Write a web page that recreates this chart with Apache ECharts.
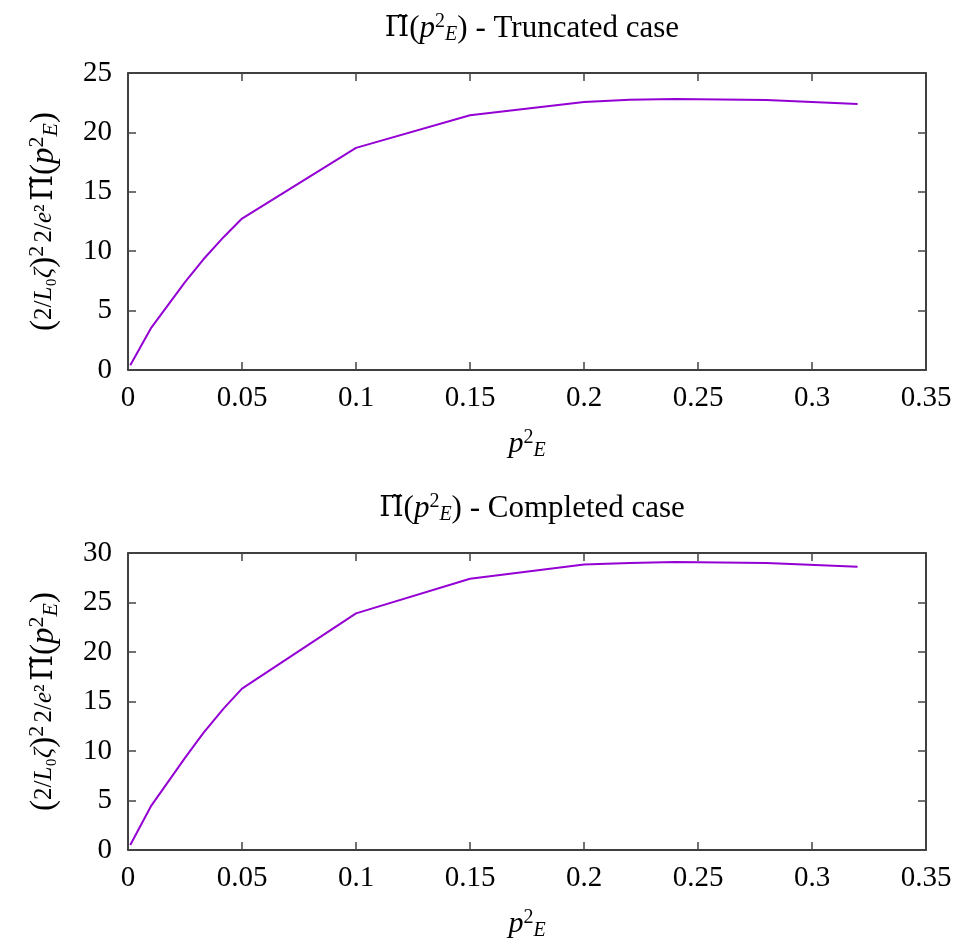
<!DOCTYPE html>
<html>
<head>
<meta charset="utf-8">
<script src="https://cdn.jsdelivr.net/npm/echarts@6/dist/echarts.min.js"></script>
<style>
  html, body { margin: 0; padding: 0; background: #fff; }
  #chart { width: 962px; height: 947px; }
</style>
</head>
<body>
<div id="chart"></div>
<script>
// p_E^2 sample points
const pE2 = [0.001, 0.01, 0.025, 0.033, 0.042, 0.05, 0.1, 0.15, 0.2, 0.22, 0.24, 0.28, 0.32]
// truncated case values
const truncatedVals = [0.4, 3.5, 7.4, 9.3, 11.2, 12.75, 18.7, 21.45, 22.55, 22.75, 22.82, 22.73, 22.4]
// completed case values
const completedVals = [0.5, 4.4, 9.3, 11.8, 14.3, 16.3, 23.9, 27.4, 28.85, 29.0, 29.1, 29.0, 28.6]

const titles = ['Truncated case', 'Completed case']
const yMax = [25, 30]

const FONT = 'Liberation Serif'
const LINE = '#9400d3'

// builds rich styles for a base font size
const makeRich = (size) => ({
  b: { fontFamily: FONT, fontSize: size, color: '#000', fontWeight: 'normal' },
  pi: { fontFamily: 'DejaVu Serif', fontSize: size - 3, color: '#000', fontWeight: 'normal' },
  i: { fontFamily: FONT, fontSize: size, color: '#000', fontWeight: 'normal', fontStyle: 'italic' },
  s: { fontFamily: FONT, fontSize: Math.round(size * 0.66), color: '#000', fontWeight: 'normal', verticalAlign: 'top', padding: [0, 0, Math.round(size * 0.42), 0] },
  u: { fontFamily: FONT, fontSize: Math.round(size * 0.66), color: '#000', fontWeight: 'normal', fontStyle: 'italic', verticalAlign: 'bottom', padding: [Math.round(size * 0.35), 0, 0, 0] },
  f: { fontFamily: FONT, fontSize: Math.round(size * 0.75), color: '#000', fontWeight: 'normal', fontStyle: 'italic' },
  fn: { fontFamily: FONT, fontSize: Math.round(size * 0.75), color: '#000', fontWeight: 'normal' }
})
const richTitle = makeRich(31)
const richX = makeRich(30)
const richY = makeRich(33)

const titleText = (name) => '{pi|Π̃}{b|(}{i|p}{s|2}{u|E}{b|) - ' + name + '}'
const xName = '{i|p}{s|2}{u|E}'
const yName = '{b|(}{fn|2/}{f|L}{fn|₀}{f|ζ}{b|)}{s|2} {fn|2/}{f|e}{fn|²} {pi|Π̃}{b|(}{i|p}{s|2}{u|E}{b|)}'

const grids = [
  { left: 128, top: 73, width: 798, height: 297 },
  { left: 128, top: 553, width: 798, height: 297 }
]

const axisLine = { show: true, onZero: false, lineStyle: { color: '#000', width: 1.5 } }
const tick = { show: true, inside: true, length: 8, lineStyle: { color: '#444', width: 1.5 } }
const label = { fontFamily: FONT, fontSize: 29, color: '#000' }

const xAxis = []
const yAxis = []
grids.forEach((g, i) => {
  xAxis.push({
    type: 'value', gridIndex: i, min: 0, max: 0.35, interval: 0.05,
    position: 'bottom',
    axisLine, axisTick: tick, splitLine: { show: false },
    axisLabel: Object.assign({ margin: 14, formatter: (v) => String(+v.toFixed(2)) }, label),
    name: xName, nameLocation: 'middle', nameGap: 58,
    nameTextStyle: { rich: richX }
  })
  xAxis.push({
    type: 'value', gridIndex: i, min: 0, max: 0.35, interval: 0.05,
    position: 'top',
    axisLine, axisTick: tick, splitLine: { show: false }, axisLabel: { show: false }
  })
  yAxis.push({
    type: 'value', gridIndex: i, min: 0, max: yMax[i], interval: 5,
    position: 'left',
    axisLine, axisTick: tick, splitLine: { show: false },
    axisLabel: Object.assign({ margin: 16 }, label),
    name: yName, nameLocation: 'middle', nameRotate: 90, nameGap: 66,
    nameTextStyle: { rich: richY }
  })
  yAxis.push({
    type: 'value', gridIndex: i, min: 0, max: yMax[i], interval: 5,
    position: 'right',
    axisLine, axisTick: tick, splitLine: { show: false }, axisLabel: { show: false }
  })
})

const series = [truncatedVals, completedVals].map((vals, i) => ({
  type: 'line',
  xAxisIndex: i * 2,
  yAxisIndex: i * 2,
  showSymbol: false,
  lineStyle: { color: LINE, width: 2 },
  itemStyle: { color: LINE },
  data: pE2.map((x, k) => [x, vals[k]])
}))

const chart = echarts.init(document.getElementById('chart'))
chart.setOption({
  backgroundColor: '#fff',
  animation: false,
  title: titles.map((t, i) => ({
    text: titleText(t),
    left: 527,
    textAlign: 'center',
    top: i === 0 ? 7 : 487,
    textStyle: { rich: richTitle, fontWeight: 'normal' }
  })),
  grid: grids,
  xAxis,
  yAxis,
  series
})
</script>
</body>
</html>
